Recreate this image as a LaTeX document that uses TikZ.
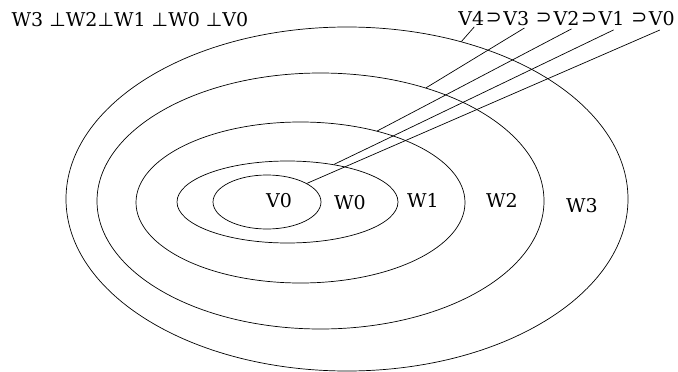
\documentclass[tikz,border=0pt]{standalone}
\usepackage{fontspec}
\setmainfont{DejaVu Serif}
\newfontfamily\symfont{DejaVu Sans}
\usetikzlibrary{positioning, shapes.geometric}

\newcommand{\perpsym}{{\symfont ⊥}}
\newcommand{\supsym}{{\symfont ⊃}}

\begin{document}
\begin{tikzpicture}[x=1pt, y=-1pt, line width=0.7pt,
    set/.style={draw, ellipse, inner sep=0pt},
    lbl/.style={font=\fontsize{19}{22}\selectfont, inner sep=0pt}]
  \useasboundingbox (0,0) rectangle (678,372);

  % nested sets, outer to inner
  \node[set, minimum width=562pt, minimum height=344pt] (w3) at (347,199) {};
  \node[set, minimum width=447pt, minimum height=256pt] (w2) at (320.5,201) {};
  \node[set, minimum width=329pt, minimum height=161pt] (w1) at (300.5,202.5) {};
  \node[set, minimum width=221pt, minimum height=82pt] (w0) at (287.5,202) {};
  \node[set, minimum width=108pt, minimum height=54pt] (v0) at (267,202) {};

  \node[lbl] (tv0) at (279,200.5) {V0};
  \node[lbl] (tw0) at (350,202.5) {W0};
  \node[lbl] (tw1) at (423,200.5) {W1};
  \node[lbl] (tw2) at (502,200.5) {W2};
  \node[lbl] (tw3) at (582,205.5) {W3};

  % top row
  \node[lbl] (perp) at (130,19.5) {W3 \perpsym W2\perpsym W1 \perpsym W0 \perpsym V0};

  \node[lbl, anchor=west] (hv4) at (458,18.5) {V4};
  \node[lbl, right=1pt of hv4] (s3) {\supsym};
  \node[lbl, right=1pt of s3] (hv3) {V3};
  \node[lbl, right=6pt of hv3] (s2) {\supsym};
  \node[lbl, right=1pt of s2] (hv2) {V2};
  \node[lbl, right=1pt of hv2] (s1) {\supsym};
  \node[lbl, right=1pt of s1] (hv1) {V1};
  \node[lbl, right=6pt of hv1] (s0) {\supsym};
  \node[lbl, right=1pt of s0] (hv0) {V0};

  \draw ([xshift=3pt, yshift=-1pt]hv4.south) -- (w3.54);
  \draw ([xshift=8pt, yshift=-2pt]hv3.south) -- (w2.47);
  \draw ([xshift=5pt, yshift=-3pt]hv2.south) -- (w1.43.5);
  \draw ([xshift=2pt, yshift=-4pt]hv1.south) -- (w0.39.6);
  \draw ([xshift=-2pt, yshift=-4pt]hv0.south) -- (v0.25.4);
\end{tikzpicture}
\end{document}
